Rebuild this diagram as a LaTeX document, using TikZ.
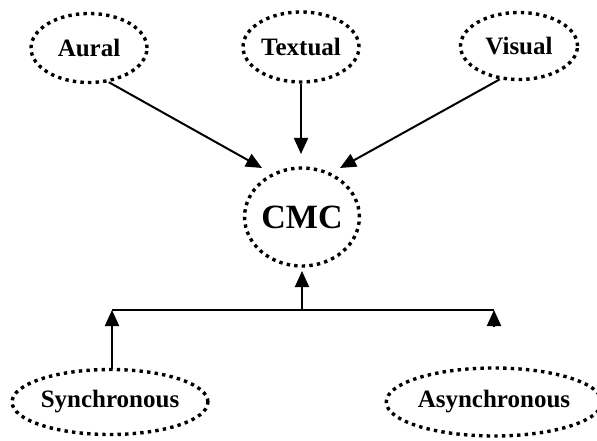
\documentclass[tikz,border=0pt]{standalone}
\usepackage{fontspec}
\setmainfont{Liberation Serif}
\usetikzlibrary{shapes.geometric,arrows.meta}
\begin{document}
\begin{tikzpicture}[x=1pt,y=-1pt,
  oval/.style={ellipse,draw,line width=3.4pt,dash pattern=on 3.4pt off 4.2pt,inner sep=0pt,font=\fontsize{25}{25}\selectfont\bfseries},
  conn/.style={line width=2pt,-{Triangle[length=16pt,width=14pt]}},
  plain/.style={line width=2pt}]
\useasboundingbox (0,0) rectangle (597,441);
\node[oval,minimum width=116pt,minimum height=69pt] (aural) at (89,48) {Aural};
\node[oval,minimum width=116pt,minimum height=70pt] (textual) at (301,47) {Textual};
\node[oval,minimum width=117pt,minimum height=67pt] (visual) at (519,46) {Visual};
\node[oval,minimum width=106pt,minimum height=98pt,font=\fontsize{34}{34}\selectfont\bfseries] (cmc) at (302,217) {CMC};
\node[oval,minimum width=194pt,minimum height=65pt] (sync) at (110,402) {Synchronous};
\node[oval,minimum width=202pt,minimum height=68pt] (async) at (494,402) {Asynchronous};
\coordinate (ain) at (262,168);
\coordinate (tin) at (301,154);
\coordinate (vin) at (340,168);
\coordinate (cin) at (302,271);
\coordinate (bar) at (302,310);
\coordinate (lbar) at (112,310);
\coordinate (rbar) at (494,310);
\coordinate (rstub) at (494,327);
\coordinate (sout) at (112,369);
\draw[conn] (aural.-60) -- (ain);
\draw[conn] (textual.south) -- (tin);
\draw[conn] (visual.240) -- (vin);
\draw[conn] (bar) -- (cin);
\draw[plain] (lbar) -- (rbar);
\draw[conn] (sout) -- (lbar);
\draw[conn] (rstub) -- (rbar);
\end{tikzpicture}
\end{document}
